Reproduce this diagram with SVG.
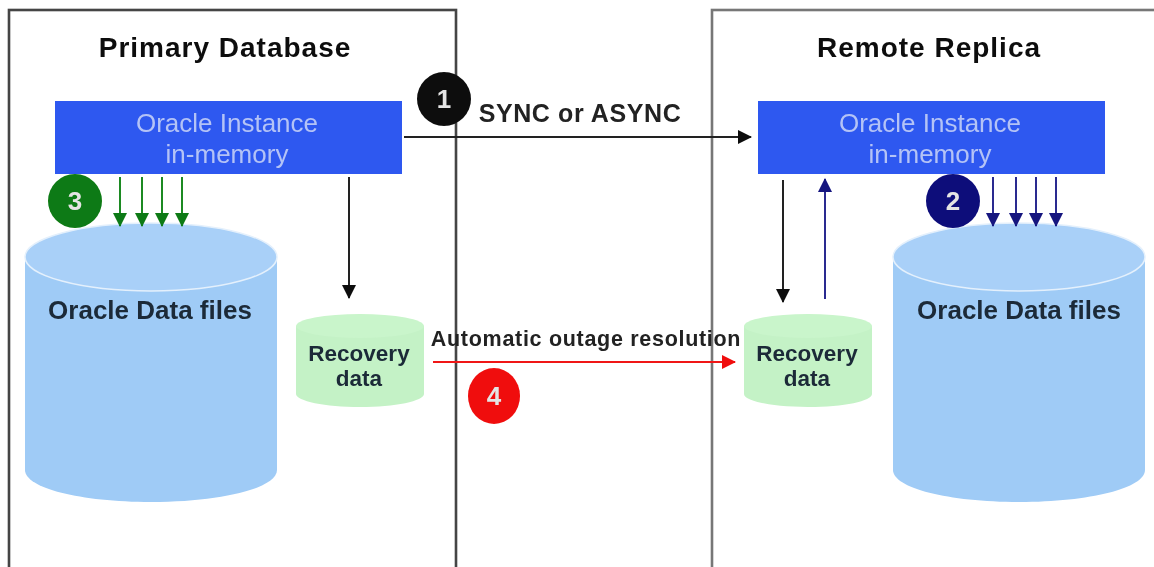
<svg xmlns="http://www.w3.org/2000/svg" width="1154" height="567" viewBox="0 0 1154 567">
<style>
text{font-family:"Liberation Sans",Arial,sans-serif;text-anchor:middle}
.b{font-weight:bold;fill:#1c2a38}
.t{font-size:28px;font-weight:bold;fill:#111;letter-spacing:1px}
.i{font-size:26px;fill:#b4c3f6}
.n{font-size:26px;font-weight:bold;fill:#e4e4e4}
.bx{fill:none;stroke-width:2.6}
.c{fill:none;stroke-width:2}
</style>
<defs>
<filter id="soft" filterUnits="userSpaceOnUse" x="0" y="0" width="1154" height="567"><feGaussianBlur stdDeviation="0.7"/></filter>
<marker id="ak" markerUnits="userSpaceOnUse" markerWidth="16" markerHeight="16" refX="13" refY="7" orient="auto"><path d="M0 0L14 7L0 14z" fill="#111"/></marker>
<marker id="ag" markerUnits="userSpaceOnUse" markerWidth="16" markerHeight="16" refX="13" refY="7" orient="auto"><path d="M0 0L14 7L0 14z" fill="#0a7a12"/></marker>
<marker id="an" markerUnits="userSpaceOnUse" markerWidth="16" markerHeight="16" refX="13" refY="7" orient="auto"><path d="M0 0L14 7L0 14z" fill="#14147f"/></marker>
<marker id="ar" markerUnits="userSpaceOnUse" markerWidth="16" markerHeight="16" refX="13" refY="7" orient="auto"><path d="M0 0L14 7L0 14z" fill="#f01010"/></marker>
</defs>
<rect width="1154" height="567" fill="#fff"/>
<g filter="url(#soft)">
<g id="primary"><rect class="bx" stroke="#444" x="9" y="10" width="447" height="570"/><text class="t" x="225" y="57">Primary Database</text></g>
<g id="replica"><rect class="bx" stroke="#777" x="712" y="10" width="460" height="570"/><text class="t" x="929" y="57">Remote Replica</text></g>
<g id="instance-primary"><rect x="55" y="101" width="347" height="73" fill="#2f58f0"/><text class="i" x="227" y="132">Oracle Instance</text><text class="i" x="227" y="163">in-memory</text></g>
<g id="instance-replica"><rect x="758" y="101" width="347" height="73" fill="#2f58f0"/><text class="i" x="930" y="132">Oracle Instance</text><text class="i" x="930" y="163">in-memory</text></g>
<g id="data-primary"><path d="M25 255V470C25 488 80 502 151 502S277 488 277 470V255z" fill="#9fcbf6"/><ellipse cx="151" cy="257" rx="126" ry="34" fill="#a9d0f8" stroke="#e4f0fc" stroke-width="1.5"/><text class="b" x="150" y="319" font-size="26">Oracle Data files</text></g>
<g id="data-replica"><path d="M893 255V470C893 488 948 502 1019 502S1145 488 1145 470V255z" fill="#9fcbf6"/><ellipse cx="1019" cy="257" rx="126" ry="34" fill="#a9d0f8" stroke="#e4f0fc" stroke-width="1.5"/><text class="b" x="1019" y="319" font-size="26">Oracle Data files</text></g>
<g id="recovery-primary"><path d="M296 326V394C296 401 325 407 360 407S424 401 424 394V326z" fill="#c4f2c6"/><ellipse cx="360" cy="326" rx="64" ry="12" fill="#c9f5cb"/><text class="b" x="359" y="361" font-size="22.5">Recovery</text><text class="b" x="359" y="386" font-size="22.5">data</text></g>
<g id="recovery-replica"><path d="M744 326V394C744 401 772 407 808 407S872 401 872 394V326z" fill="#c4f2c6"/><ellipse cx="808" cy="326" rx="64" ry="12" fill="#c9f5cb"/><text class="b" x="807" y="361" font-size="22.5">Recovery</text><text class="b" x="807" y="386" font-size="22.5">data</text></g>
<g id="connectors">
<path class="c" stroke="#222" d="M404 137H751" marker-end="url(#ak)"/>
<path class="c" stroke="#222" d="M349 177V298" marker-end="url(#ak)"/>
<path class="c" stroke="#222" d="M783 180V302" marker-end="url(#ak)"/>
<path class="c" stroke="#2a2a90" d="M825 299V179" marker-end="url(#an)"/>
<path class="c" stroke="#1a8a22" d="M120 177V226" marker-end="url(#ag)"/>
<path class="c" stroke="#1a8a22" d="M142 177V226" marker-end="url(#ag)"/>
<path class="c" stroke="#1a8a22" d="M162 177V226" marker-end="url(#ag)"/>
<path class="c" stroke="#1a8a22" d="M182 177V226" marker-end="url(#ag)"/>
<path class="c" stroke="#2a2a90" d="M993 177V226" marker-end="url(#an)"/>
<path class="c" stroke="#2a2a90" d="M1016 177V226" marker-end="url(#an)"/>
<path class="c" stroke="#2a2a90" d="M1036 177V226" marker-end="url(#an)"/>
<path class="c" stroke="#2a2a90" d="M1056 177V226" marker-end="url(#an)"/>
<path class="c" stroke="#f01818" d="M433 362H735" marker-end="url(#ar)"/>
<text x="580" y="122" font-weight="bold" fill="#222" font-size="25" letter-spacing="0.6">SYNC or ASYNC</text>
<text x="586" y="346" font-weight="bold" fill="#222" font-size="21.5" letter-spacing="0.7">Automatic outage resolution</text>
</g>
<g id="badge-1"><circle cx="444" cy="99" r="27" fill="#0a0a0a"/><text class="n" x="444" y="108">1</text></g>
<g id="badge-2"><circle cx="953" cy="201" r="27" fill="#0a0a7a"/><text class="n" x="953" y="210">2</text></g>
<g id="badge-3"><circle cx="75" cy="201" r="27" fill="#0a7a12"/><text class="n" x="75" y="210">3</text></g>
<g id="badge-4"><ellipse cx="494" cy="396" rx="26" ry="28" fill="#f00a0a"/><text class="n" x="494" y="405">4</text></g>
</g>
</svg>
